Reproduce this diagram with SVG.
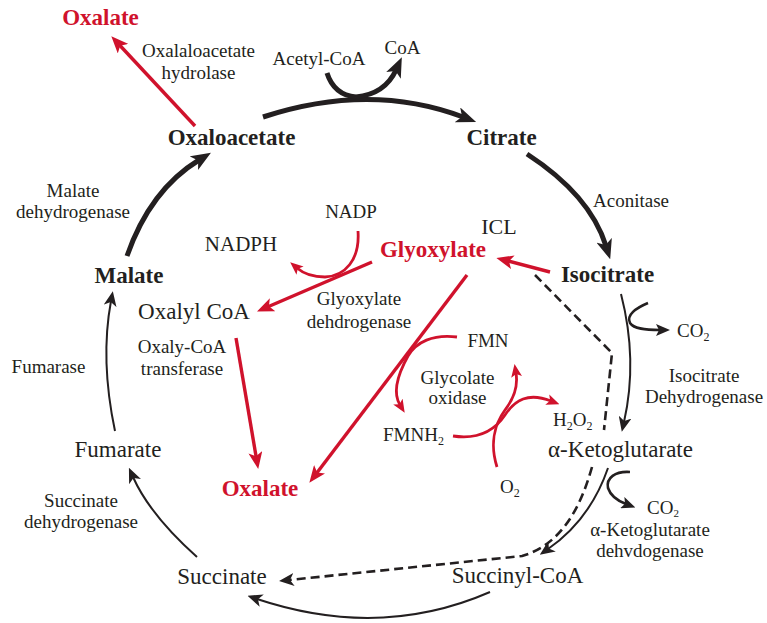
<svg xmlns="http://www.w3.org/2000/svg" width="767" height="623" viewBox="0 0 767 623">
  <defs>
    <style>
      text { font-family: "Liberation Serif", "Times New Roman", serif; fill: #231f20; text-anchor: middle; }
      .met { font-size: 23px; }
      .bold { font-size: 23px; font-weight: bold; }
      .enz { font-size: 19px; }
      .red { fill: #d0122c; }
      .thick { fill: none; stroke: #231f20; stroke-width: 5; }
      .thin { fill: none; stroke: #231f20; stroke-width: 2; }
      .side { fill: none; stroke: #231f20; stroke-width: 2.6; }
      .dash { fill: none; stroke: #231f20; stroke-width: 2.6; stroke-dasharray: 9 5; }
      .rline { fill: none; stroke: #d0122c; stroke-width: 3.4; }
      .rside { fill: none; stroke: #d0122c; stroke-width: 2.8; }
    </style>
    <marker id="mk" markerUnits="userSpaceOnUse" markerWidth="20" markerHeight="16" refX="6" refY="8" orient="auto">
      <path d="M0,0 L20,8 L0,16 L5,8 z" fill="#231f20"/>
    </marker>
    <marker id="mt" markerUnits="userSpaceOnUse" markerWidth="15" markerHeight="13" refX="5" refY="6.5" orient="auto">
      <path d="M0,0 L15,6.5 L0,13 L4,6.5 z" fill="#231f20"/>
    </marker>
    <marker id="mb" markerUnits="userSpaceOnUse" markerWidth="14" markerHeight="12" refX="4" refY="6" orient="auto">
      <path d="M0,0 L14,6 L0,12 L3,6 z" fill="#231f20"/>
    </marker>
    <marker id="mr" markerUnits="userSpaceOnUse" markerWidth="17" markerHeight="14" refX="5" refY="7" orient="auto">
      <path d="M0,0 L17,7 L0,14 L4,7 z" fill="#d0122c"/>
    </marker>
    <marker id="ms" markerUnits="userSpaceOnUse" markerWidth="13" markerHeight="11" refX="4" refY="5.5" orient="auto">
      <path d="M0,0 L13,5.5 L0,11 L3,5.5 z" fill="#d0122c"/>
    </marker>
  </defs>

  <rect width="767" height="623" fill="#ffffff"/>

  <!-- connectors -->
  <g id="connectors">
    <!-- citric acid cycle, thick upper arcs -->
    <path class="thick" d="M263,117 Q370,82 463,117" marker-end="url(#mk)"/>
    <path class="thick" d="M327,73 Q334,95 356,97"/>
    <path class="thick" d="M356,97 Q385,94 396,70" marker-end="url(#mk)"/>
    <path class="thick" d="M527,154 Q590,195 606,246" marker-end="url(#mk)"/>
    <path class="thick" d="M127,256 Q150,190 199,160" marker-end="url(#mk)"/>

    <!-- citric acid cycle, thin arcs -->
    <path class="thin" d="M115,431 Q100,360 111,301" marker-end="url(#mt)"/>
    <path class="thin" d="M197,557 Q150,515 133,477" marker-end="url(#mt)"/>
    <path class="thin" d="M490,592 Q380,640 257,599" marker-end="url(#mt)"/>
    <path class="thin" d="M621,294 Q638,360 624,422" marker-end="url(#mt)"/>
    <path class="thin" d="M608,468 Q590,520 548,549" marker-end="url(#mt)"/>

    <!-- CO2 release branches -->
    <path class="side" d="M648,303 C636,308 626,315 630,323 C634,329 645,330 660,330" marker-end="url(#mb)"/>
    <path class="side" d="M630,472 C615,471 606,478 608,488 C611,497 618,501 626,504" marker-end="url(#mb)"/>

    <!-- shortcut from isocitrate to succinate -->
    <path class="dash" d="M535,275 L612,353 L604,430"/>
    <path class="dash" d="M592,467 C580,510 560,545 522,556 L289,580" marker-end="url(#mt)"/>

    <!-- oxalate-forming routes -->
    <path class="rline" d="M195,126 L119.5,45" marker-end="url(#mr)"/>
    <path class="rline" d="M550,272 L508,261" marker-end="url(#mr)"/>
    <path class="rline" d="M372,262 L268,306.7" marker-end="url(#mr)"/>
    <path class="rside" d="M358,231 C360,260 345,276 325,277 C313,277 304,274 297,268" marker-end="url(#ms)"/>
    <path class="rline" d="M236,338 L256.2,457.2" marker-end="url(#mr)"/>
    <path class="rline" d="M467,275 L316.6,473.2" marker-end="url(#mr)"/>
    <path class="rside" d="M457,337 C433,334 416,342 408,356 C398,374 392,392 400,405" marker-end="url(#ms)"/>
    <path class="rside" d="M453,436 C480,440 495,430 505,415 C515,400 528,392 551,401" marker-end="url(#ms)"/>
    <path class="rside" d="M497,467 C490,445 494,425 505,410 C515,397 518,385 516,373" marker-end="url(#ms)"/>
  </g>

  <!-- metabolites -->
  <g id="oxalate-top"><text class="bold red" x="100.5" y="25">Oxalate</text></g>
  <g id="oxaloacetate"><text class="bold" x="231.5" y="145">Oxaloacetate</text></g>
  <g id="citrate"><text class="bold" x="501.5" y="145">Citrate</text></g>
  <g id="isocitrate"><text class="bold" x="607.5" y="282">Isocitrate</text></g>
  <g id="malate"><text class="bold" x="129" y="283">Malate</text></g>
  <g id="glyoxylate"><text class="bold red" x="433" y="257">Glyoxylate</text></g>
  <g id="oxalyl-coa"><text class="met" x="194" y="319">Oxalyl CoA</text></g>
  <g id="oxalate"><text class="bold red" x="260" y="496">Oxalate</text></g>
  <g id="fumarate"><text class="met" x="118" y="457">Fumarate</text></g>
  <g id="alpha-ketoglutarate"><text class="met" x="620.5" y="457">α-Ketoglutarate</text></g>
  <g id="succinyl-coa"><text class="met" x="517.5" y="583">Succinyl-CoA</text></g>
  <g id="succinate"><text class="met" x="222" y="584">Succinate</text></g>

  <!-- cofactors -->
  <g id="acetyl-coa"><text class="enz" x="319" y="65">Acetyl-CoA</text></g>
  <g id="coa"><text class="enz" x="402.5" y="54">CoA</text></g>
  <g id="nadp"><text class="enz" x="351" y="218">NADP</text></g>
  <g id="nadph"><text class="enz" x="241" y="251" style="font-size:21px">NADPH</text></g>
  <g id="icl"><text class="enz" x="499" y="234" style="font-size:22px">ICL</text></g>
  <g id="fmn"><text class="enz" x="488" y="347">FMN</text></g>
  <g id="fmnh2"><text class="enz" x="383" y="441" style="text-anchor:start">FMNH<tspan dy="4" font-size="12">2</tspan></text></g>
  <g id="h2o2"><text class="enz" x="553" y="426" style="text-anchor:start">H<tspan dy="4" font-size="12">2</tspan><tspan dy="-4">O</tspan><tspan dy="4" font-size="12">2</tspan></text></g>
  <g id="o2"><text class="enz" x="500" y="493" style="text-anchor:start">O<tspan dy="4" font-size="12">2</tspan></text></g>
  <g id="co2-a"><text class="enz" x="677" y="337" style="text-anchor:start">CO<tspan dy="4" font-size="12">2</tspan></text></g>
  <g id="co2-b"><text class="enz" x="647" y="514" style="text-anchor:start">CO<tspan dy="3" font-size="11">2</tspan></text></g>

  <!-- enzymes -->
  <g id="enz-hydrolase">
    <text class="enz" x="198.5" y="57">Oxalaloacetate</text>
    <text class="enz" x="198.5" y="79">hydrolase</text>
  </g>
  <g id="enz-aconitase"><text class="enz" x="631" y="207">Aconitase</text></g>
  <g id="enz-malate-dh">
    <text class="enz" x="73" y="197">Malate</text>
    <text class="enz" x="73" y="218">dehydrogenase</text>
  </g>
  <g id="enz-glyoxylate-dh">
    <text class="enz" x="359" y="305">Glyoxylate</text>
    <text class="enz" x="359" y="328">dehdrogenase</text>
  </g>
  <g id="enz-transferase">
    <text class="enz" x="182" y="353">Oxaly-CoA</text>
    <text class="enz" x="182" y="375">transferase</text>
  </g>
  <g id="enz-fumarase"><text class="enz" x="48.5" y="373">Fumarase</text></g>
  <g id="enz-glycolate-ox">
    <text class="enz" x="457.5" y="384">Glycolate</text>
    <text class="enz" x="457.5" y="404">oxidase</text>
  </g>
  <g id="enz-isocitrate-dh">
    <text class="enz" x="704" y="382">Isocitrate</text>
    <text class="enz" x="704" y="403">Dehydrogenase</text>
  </g>
  <g id="enz-succinate-dh">
    <text class="enz" x="81" y="507">Succinate</text>
    <text class="enz" x="81" y="528">dehydrogenase</text>
  </g>
  <g id="enz-akg-dh">
    <text class="enz" x="650" y="536">α-Ketoglutarate</text>
    <text class="enz" x="650" y="557">dehvdogenase</text>
  </g>
</svg>
